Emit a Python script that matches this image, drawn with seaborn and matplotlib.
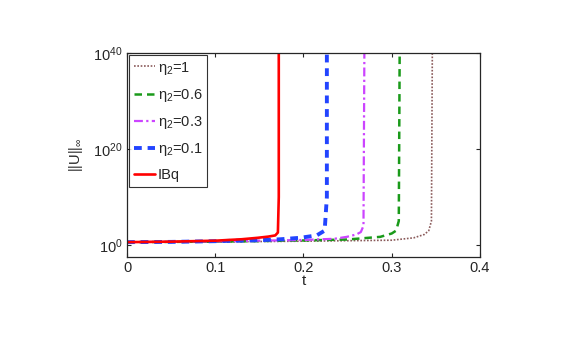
import numpy as np
import pandas as pd
import matplotlib
matplotlib.use("Agg")
import matplotlib.pyplot as plt
import seaborn as sns

# Data (t, log10 of ||U||_inf)
t_eta1 = [0, 0.1, 0.2, 0.3, 0.325, 0.337, 0.342, 0.345, 0.346]
e_eta1 = [0.6, 0.65, 0.8, 1.0, 1.5, 2.2, 3.0, 5, 40]

t_eta06 = [0, 0.1, 0.2, 0.25, 0.287, 0.300, 0.305, 0.308, 0.309]
e_eta06 = [0.6, 0.7, 0.95, 1.15, 1.7, 2.4, 3.0, 5, 40]

t_eta03 = [0, 0.1, 0.2, 0.235, 0.249, 0.260, 0.265, 0.268, 0.269]
e_eta03 = [0.6, 0.75, 1.05, 1.3, 1.7, 2.2, 2.7, 4, 40]

t_eta01 = [0, 0.05, 0.10, 0.15, 0.174, 0.196, 0.215, 0.224, 0.2265, 0.2265]
e_eta01 = [0.6, 0.65, 0.8, 1.0, 1.2, 1.5, 2.0, 3.0, 10, 40]

t_ibq = [0, 0.05, 0.10, 0.13, 0.148, 0.160, 0.168, 0.171, 0.172, 0.172]
e_ibq = [0.6, 0.7, 0.9, 1.2, 1.5, 1.75, 2.0, 2.6, 10, 40]

labels = ["η$_2$=1", "η$_2$=0.6", "η$_2$=0.3", "η$_2$=0.1", "IBq"]
series_t = [t_eta1, t_eta06, t_eta03, t_eta01, t_ibq]
series_e = [e_eta1, e_eta06, e_eta03, e_eta01, e_ibq]

colors = ["#8a5a5a", "#1a9a1a", "#cc44ff", "#2244ff", "#ff0000"]
styles = [(0, (1, 1)), (0, (3, 2)), (0, (4, 1.5, 1, 1.5)), (0, (2, 1.5)), "-"]
widths = [1.2, 1.8, 1.6, 2.8, 1.9]

rows = []
for lab, ts, es in zip(labels, series_t, series_e):
    for t, e in zip(ts, es):
        rows.append({"t": t, "U": 10.0 ** e, "series": lab})
df = pd.DataFrame(rows)

sns.set_style("ticks")
plt.rcParams["font.family"] = ["Liberation Sans", "DejaVu Sans"]
plt.rcParams["mathtext.fontset"] = "custom"
plt.rcParams["mathtext.rm"] = "Liberation Sans"
plt.rcParams["mathtext.it"] = "Liberation Sans"

fig = plt.figure(figsize=(5.68, 3.38), dpi=100)
ax = fig.add_axes([0.2236, 0.2396, 0.6214, 0.6036])

for lab, c, ls, lw in zip(labels, colors, styles, widths):
    sub = df[df["series"] == lab]
    sns.lineplot(data=sub, x="t", y="U", ax=ax, color=c, linestyle=ls,
                 linewidth=lw, label=lab, sort=False, estimator=None)

ax.set_yscale("log")
ax.set_xlim(0, 0.4)
ax.set_ylim(10 ** -2.5, 1e40)
ax.set_xticks([0, 0.1, 0.2, 0.3, 0.4])
ax.set_xticklabels(["0", "0.1", "0.2", "0.3", "0.4"])
ax.set_yticks([1, 1e20, 1e40])
ax.yaxis.set_minor_locator(matplotlib.ticker.NullLocator())
ax.tick_params(direction="in", top=True, right=True, labelsize=10.5, length=3, width=0.8, pad=3)
for s in ax.spines.values():
    s.set_linewidth(0.9)
ax.set_xlabel("t", fontsize=11, labelpad=-1)
ax.set_ylabel(r"||U||$_\infty$", fontsize=10.5, labelpad=6)

leg = ax.legend(loc="upper left", fontsize=10.5, frameon=True, fancybox=False,
                edgecolor="black", handlelength=1.5, handletextpad=0.15,
                labelspacing=0.7, borderpad=0.3, borderaxespad=0.15)
leg.get_frame().set_linewidth(0.8)

fig.savefig("out.png", dpi=100)
